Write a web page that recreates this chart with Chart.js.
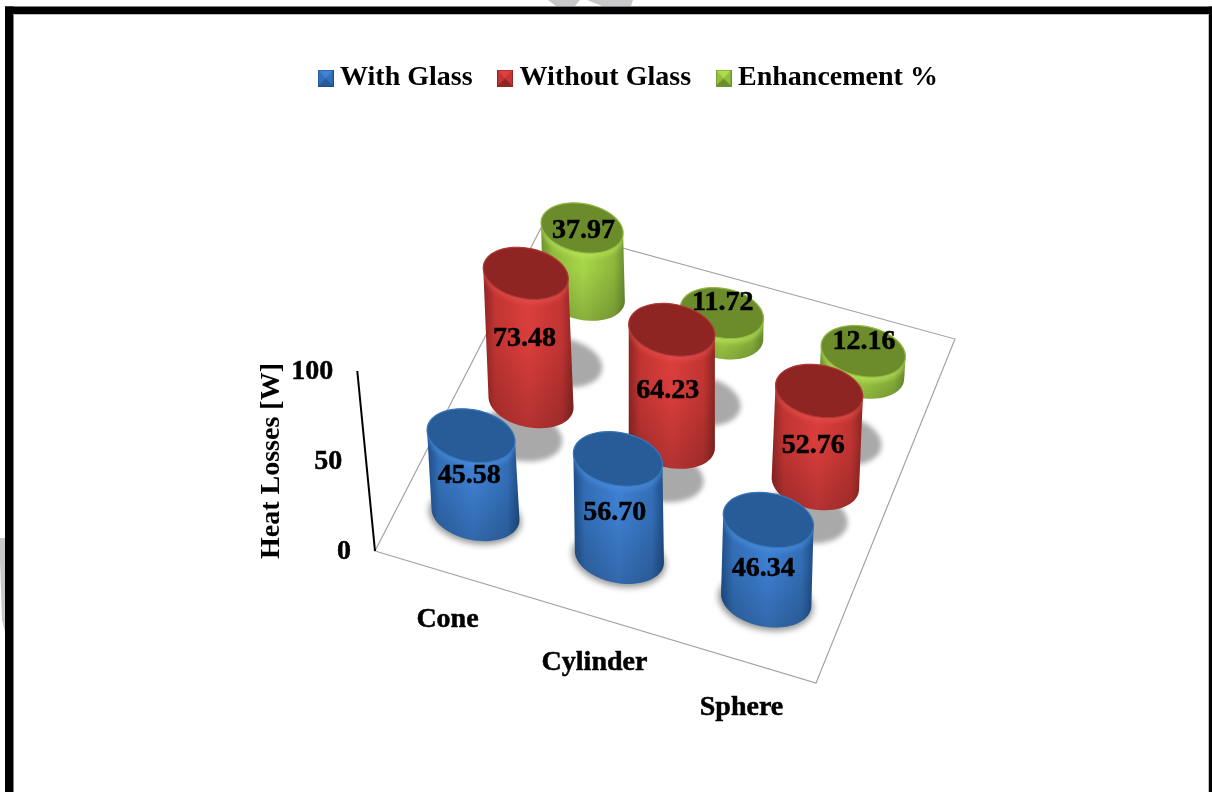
<!DOCTYPE html>
<html><head><meta charset="utf-8">
<style>html,body{margin:0;padding:0;background:#fff;overflow:hidden}#w{position:relative;width:1212px;height:792px}</style>
<script src="https://cdn.jsdelivr.net/npm/chart.js@4"></script>
</head><body><div id="w"><canvas id="c" width="1212" height="792"></canvas></div>
<script>
const categories = ['Cone', 'Cylinder', 'Sphere'];
const withGlass = [45.58, 56.70, 46.34];
const withoutGlass = [73.48, 64.23, 52.76];
const enhancement = [37.97, 11.72, 12.16];
const seriesNames = ['With Glass', 'Without Glass', 'Enhancement %'];
const yTicks = [0, 50, 100];
const yTitle = 'Heat Losses [W]';

const FONT = 'bold 28px "Liberation Serif"';
const palette = [
  {top:'#275c98', rim:'#3a77bd', band:'#4a8fe0', edge:'#1f4f88', mid:'#3f82d6', soft:'#3370ba'},
  {top:'#8e2522', rim:'#b03a36', band:'#e8504c', edge:'#8e2623', mid:'#df3f3d', soft:'#c43533'},
  {top:'#6c8c2c', rim:'#93bb45', band:'#bce85c', edge:'#6d9230', mid:'#acdd4b', soft:'#92bd3e'}
];

// floor of the 3-D box: projective map from the unit square
const floor = {p00:[375,551], p10:[816,683], p11:[955,339], p01:[542,226]};
const H = (function(){
  const [x0,y0]=floor.p00,[x1,y1]=floor.p10,[x2,y2]=floor.p11,[x3,y3]=floor.p01;
  const dx1=x1-x2,dx2=x3-x2,sx=x0-x1+x2-x3,dy1=y1-y2,dy2=y3-y2,sy=y0-y1+y2-y3;
  const d=dx1*dy2-dx2*dy1, g=(sx*dy2-dx2*sy)/d, h=(dx1*sy-sx*dy1)/d;
  return {a:x1-x0+g*x1,b:x3-x0+h*x3,c:x0,d:y1-y0+g*y1,e:y3-y0+h*y3,f:y0,g,h};
})();
function proj(u,v){const w=H.g*u+H.h*v+1;return [(H.a*u+H.b*v+H.c)/w,(H.d*u+H.e*v+H.f)/w];}
const VX=672, TILT=0.00029, EA=44.5, EB=26, ROT=11*Math.PI/180;
// outline of a cylinder cap: a slightly rotated ellipse that shrinks with depth
function ring(u,v,dx,dy,s){
  const c=proj(u,v), k=s*(1.03-.1*v)*(.98+.04*u), pts=[];
  for(let i=0;i<72;i++){
    const t=i/72*Math.PI*2, ex=EA*k*Math.cos(t), ey=EB*k*Math.sin(t);
    pts.push([c[0]+ex*Math.cos(ROT)-ey*Math.sin(ROT)+dx, c[1]+ex*Math.sin(ROT)+ey*Math.cos(ROT)+dy]);
  }
  return pts;
}
function hull(points){
  const p=points.slice().sort((a,b)=>a[0]-b[0]||a[1]-b[1]);
  const cr=(o,a,b)=>(a[0]-o[0])*(b[1]-o[1])-(a[1]-o[1])*(b[0]-o[0]);
  const lo=[],up=[];
  for(const q of p){while(lo.length>1&&cr(lo[lo.length-2],lo[lo.length-1],q)<=0)lo.pop();lo.push(q);}
  for(const q of p.reverse()){while(up.length>1&&cr(up[up.length-2],up[up.length-1],q)<=0)up.pop();up.push(q);}
  return lo.slice(0,-1).concat(up.slice(0,-1));
}
function tracePoly(ctx,pts){ctx.beginPath();pts.forEach((p,i)=>i?ctx.lineTo(p[0],p[1]):ctx.moveTo(p[0],p[1]));ctx.closePath();}

class CylinderElement extends Chart.BarElement {
  draw(ctx){
    const g=this.geo; if(!g) return;
    const c=palette[g.ds];
    const top=ring(g.u,g.v,g.dx,g.dy,1), bot=ring(g.u,g.v,0,0,1);
    const body=hull(top.concat(bot));
    const xs=body.map(p=>p[0]), x0=Math.min(...xs), x1=Math.max(...xs);
    const ys=body.map(p=>p[1]), y0=Math.min(...ys), y1=Math.max(...ys);
    ctx.save();
    tracePoly(ctx,body);
    const gr=ctx.createLinearGradient(x0,0,x1,0);
    gr.addColorStop(0,c.edge);gr.addColorStop(.13,c.soft);gr.addColorStop(.5,c.mid);gr.addColorStop(.87,c.soft);gr.addColorStop(1,c.edge);
    ctx.fillStyle=gr;ctx.fill();
    const ov=ctx.createLinearGradient(0,y0,0,y1);
    ov.addColorStop(0,'rgba(0,0,0,0)');ov.addColorStop(.55,'rgba(0,0,0,0.03)');ov.addColorStop(1,'rgba(0,0,0,0.2)');
    ctx.fillStyle=ov;ctx.fill();
    // light bevel band just under the top face
    ctx.save();
    tracePoly(ctx,body);ctx.clip();
    ctx.filter='blur(2px)';ctx.globalAlpha=.55;
    tracePoly(ctx,top.map(p=>[p[0],p[1]+5]));ctx.fillStyle=c.band;ctx.fill();
    ctx.restore();
    tracePoly(ctx,top);ctx.fillStyle=c.top;ctx.fill();
    ctx.strokeStyle=c.rim;ctx.lineWidth=1.2;ctx.stroke();
    ctx.restore();
  }
}
CylinderElement.id='cylinder3d';
Chart.register(CylinderElement);

class Cylinder3DController extends Chart.BarController {
  updateElement(el,index,props,mode){
    const ds=this.index, yS=this._cachedMeta.vScale;
    const u=(index+.5)/categories.length, v=(ds+.5)/3;
    const val=this.getParsed(index).y;
    const base=proj(u,v);
    const depth=.95+.05*v;
    const h=(yS.getPixelForValue(0)-yS.getPixelForValue(val))*depth;
    const dy=-h, dx=-h*(VX-base[0])*TILT;
    el.geo={ds,index,u,v,dx,dy,base,h,val};
    super.updateElement(el,index,props,mode);
  }
}
Cylinder3DController.id='cylinder3d';
Cylinder3DController.defaults=Object.assign({},Chart.BarController.defaults,{dataElementType:'cylinder3d'});
Cylinder3DController.overrides=Chart.BarController.overrides;
Chart.register(Cylinder3DController);

function legendIcon(c){
  const cv=document.createElement('canvas');cv.width=16;cv.height=17;
  const x=cv.getContext('2d');
  x.fillStyle=c.soft;x.fillRect(0,0,16,17);
  x.fillStyle=c.top;x.beginPath();x.moveTo(0,17);x.lineTo(16,17);x.lineTo(8,9);x.closePath();x.fill();
  x.fillStyle=c.mid;x.beginPath();x.moveTo(0,0);x.lineTo(16,0);x.lineTo(8,9);x.closePath();x.fill();
  x.strokeStyle=c.edge;x.lineWidth=1;x.strokeRect(.5,.5,15,16);
  return cv;
}
const icons=palette.map(legendIcon);

function boldText(ctx,s,x,y){ctx.fillText(s,x,y);ctx.lineWidth=.5;ctx.strokeStyle='#000';ctx.strokeText(s,x,y);}

const scene={
  id:'scene',
  beforeDraw(chart){
    const ctx=chart.ctx;
    ctx.save();
    ctx.fillStyle='#fff';ctx.fillRect(0,0,chart.width,chart.height);
    ctx.fillStyle='#c8c8ca';
    [[[548,0],[580,0],[575,6],[556,6]],[[587,0],[633,0],[631,6],[602,6]],[[0,538],[5,538],[5,632],[2,620],[0,560]]].forEach(p=>{tracePoly(ctx,p);ctx.fill();});
    ctx.fillStyle='#000';
    ctx.fillRect(5,6.5,1207,7.5);ctx.fillRect(5,6.5,8.5,786);ctx.fillRect(1209,6.5,3,786);
    ctx.fillStyle='#bdbdbd';ctx.fillRect(1208,14,1,778);ctx.fillRect(13.5,14,1194.5,1);
    ctx.restore();
  },
  beforeDatasetsDraw(chart){
    const ctx=chart.ctx, yS=chart.scales.y;
    ctx.save();
    // floor outline
    ctx.strokeStyle='#a0a0a0';ctx.lineWidth=1.1;
    tracePoly(ctx,[floor.p00,floor.p10,floor.p11,floor.p01]);ctx.stroke();
    // slanted value axis
    ctx.strokeStyle='#000';ctx.lineWidth=2;
    const zero=yS.getPixelForValue(0), hundred=yS.getPixelForValue(100);
    const axX=y=>floor.p00[0]-(zero-y)*0.0985;
    ctx.beginPath();ctx.moveTo(axX(zero),zero);ctx.lineTo(axX(hundred),hundred);ctx.stroke();
    // value tick labels follow the slanted axis
    ctx.fillStyle='#000';ctx.font=FONT;ctx.textAlign='right';ctx.textBaseline='middle';
    yS.ticks.forEach(t=>{
      const y=yS.getPixelForValue(t.value);
      boldText(ctx,String(t.value),axX(y)-24,y+1);
    });
    // category labels follow the front edge of the floor
    const xS=chart.scales.x;
    ctx.textAlign='center';
    categories.forEach((n,i)=>{
      const p=proj((i+.5)/categories.length,0);
      boldText(ctx,xS.getLabelForValue(i),xS.getPixelForTick(i)-1,p[1]+47);
    });
    // shadows on the floor
    chart.data.datasets.forEach((d,ds)=>{
      chart.getDatasetMeta(ds).data.forEach(el=>{
        const g=el.geo;if(!g)return;
        const k=g.v-1/6;
        const halo=ds===0;
        ctx.save();
        ctx.filter=halo?'blur(3px)':'blur(2.5px)';
        ctx.fillStyle=halo?'#969696':'#a9a9a9';
        tracePoly(ctx,ring(g.u,g.v,-34*k-(halo?.5:0),100*k+(halo?2:0),halo?1.05:1));
        ctx.fill();
        ctx.restore();
      });
    });
    ctx.restore();
  },
  afterDatasetsDraw(chart){
    const ctx=chart.ctx;
    ctx.save();
    ctx.fillStyle='#000';ctx.font=FONT;ctx.textAlign='center';ctx.textBaseline='middle';
    for(let ds=chart.data.datasets.length-1;ds>=0;ds--){
      chart.getDatasetMeta(ds).data.forEach(el=>{
        const g=el.geo;if(!g)return;
        const f=ds===2?.72:.5;
        const x=g.base[0]+g.dx*f+(ds===2?1:-4);
        const y=g.base[1]+g.dy*f+(ds===2?-16:4*g.index+1);
        boldText(ctx,g.val.toFixed(2),x,y);
      });
    }
    ctx.restore();
  }
};

const hiddenAxis=(pos,size)=>({
  type:'linear',position:pos,display:true,
  grid:{display:false},border:{display:false},ticks:{display:false},
  afterFit(s){ if(pos==='top')s.height=size; else s.width=size; }
});

new Chart(document.getElementById('c'),{
  type:'cylinder3d',
  plugins:[scene],
  data:{
    labels:categories,
    datasets:[
      {label:seriesNames[0],data:withGlass,backgroundColor:palette[0].soft,pointStyle:icons[0],clip:false},
      {label:seriesNames[1],data:withoutGlass,backgroundColor:palette[1].soft,pointStyle:icons[1],clip:false},
      {label:seriesNames[2],data:enhancement,backgroundColor:palette[2].soft,pointStyle:icons[2],clip:false}
    ]
  },
  options:{
    responsive:false,animation:false,
    layout:{padding:{left:51,right:0,top:32,bottom:241}},
    scales:{
      x:{type:'category',position:'bottom',grid:{display:false},border:{display:false},ticks:{display:false},afterFit(s){s.height=0;}},
      y:{type:'linear',position:'left',min:0,max:100,
        grid:{display:false},border:{display:false},
        ticks:{display:false,stepSize:50},
        afterBuildTicks(s){s.ticks=yTicks.map(v=>({value:v}));},
        title:{display:true,text:yTitle,color:'#000',font:{family:'Liberation Serif',size:28,weight:'bold'},padding:{top:204,bottom:0}},
        afterFit(s){s.width=324;}
      },
      xT:hiddenAxis('top',269),
      yR:hiddenAxis('right',396)
    },
    plugins:{
      tooltip:{enabled:false},
      legend:{display:true,position:'top',align:'center',
        labels:{color:'#000',font:{family:'Liberation Serif',size:28,weight:'bold'},usePointStyle:true,boxWidth:1,boxHeight:17,padding:32}}
    }
  }
});
</script></body></html>
